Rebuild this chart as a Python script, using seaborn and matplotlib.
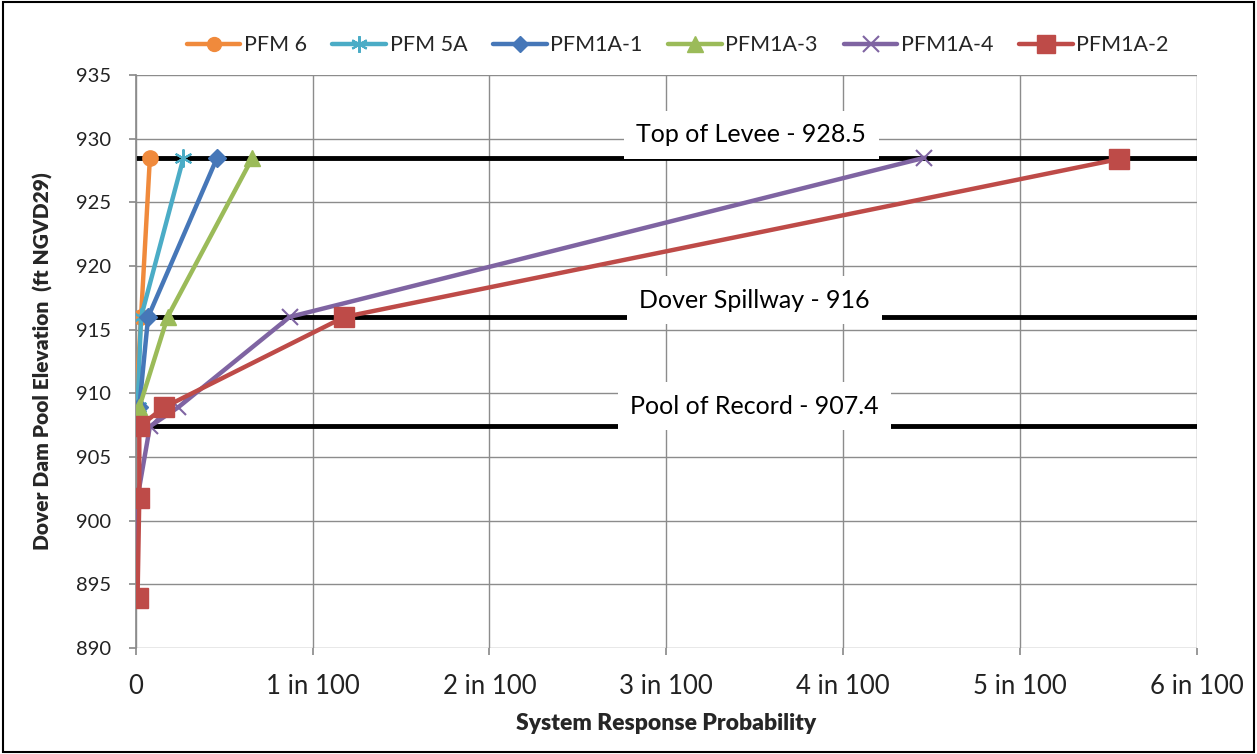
import matplotlib
matplotlib.use("Agg")
import matplotlib.pyplot as plt
import matplotlib.patches as mpatches
import pandas as pd
import seaborn as sns

# series data: probability (fraction) vs pool elevation
series_names = ["PFM 6", "PFM 5A", "PFM1A-1", "PFM1A-3", "PFM1A-4", "PFM1A-2"]

elev_pfm6 = [907.4, 908.9, 916.0, 928.5]
prob_pfm6 = [0.0000, 0.0000, 0.0003, 0.0008]

elev_pfm5a = [907.4, 908.9, 916.0, 928.5]
prob_pfm5a = [0.0000, 0.0001, 0.0003, 0.0027]

elev_pfm1a1 = [907.4, 908.9, 916.0, 928.5]
prob_pfm1a1 = [0.0000, 0.0002, 0.0007, 0.0046]

elev_pfm1a3 = [907.4, 908.9, 916.0, 928.5]
prob_pfm1a3 = [0.0000, 0.0002, 0.0018, 0.0066]

elev_pfm1a4 = [893.9, 901.8, 907.4, 908.9, 916.0, 928.5]
prob_pfm1a4 = [0.0000, 0.0001, 0.0008, 0.0024, 0.0087, 0.0446]

elev_pfm1a2 = [893.9, 901.8, 907.4, 908.9, 916.0, 928.4]
prob_pfm1a2 = [0.0001, 0.0002, 0.0002, 0.0016, 0.0118, 0.0556]

ref_levels = [928.5, 916.0, 907.4]
ref_labels = ["Top of Levee - 928.5", "Dover Spillway - 916", "Pool of Record - 907.4"]

x_ticks = [0, 0.01, 0.02, 0.03, 0.04, 0.05, 0.06]
x_ticklabels = ["0", "1 in 100", "2 in 100", "3 in 100", "4 in 100", "5 in 100", "6 in 100"]
y_ticks = list(range(890, 936, 5))

colors = ["#F08A3C", "#4BACC6", "#4677B8", "#9BBB59", "#7F64A2", "#BE4B48"]
markers = ["o", (6, 2, 0), "D", "^", "x", "s"]
msizes = [11, 13, 9, 12, 12, 14]
medge = [1, 1.5, 1, 1, 1.5, 1]

all_x = [prob_pfm6, prob_pfm5a, prob_pfm1a1, prob_pfm1a3, prob_pfm1a4, prob_pfm1a2]
all_y = [elev_pfm6, elev_pfm5a, elev_pfm1a1, elev_pfm1a3, elev_pfm1a4, elev_pfm1a2]

sns.set_theme(style="white")
plt.rcParams["font.family"] = ["Lato", "DejaVu Sans"]

fig = plt.figure(figsize=(12.57, 7.54), dpi=100)
ax = fig.add_axes([0.108, 0.1406, 0.844, 0.7599])

# reference lines first, under the data
for lvl in ref_levels:
    ax.axhline(lvl, color="black", lw=3.5, zorder=2)

handles = []
for i, name in enumerate(series_names):
    df = pd.DataFrame({"prob": all_x[i], "elev": all_y[i]})
    sns.lineplot(data=df, x="prob", y="elev", ax=ax, sort=False, estimator=None,
                 color=colors[i], lw=3.2, marker=markers[i], markersize=msizes[i],
                 markeredgecolor=colors[i], markeredgewidth=medge[i], zorder=3 + i)
    handles.append(plt.Line2D([], [], color=colors[i], lw=3.2, marker=markers[i],
                              markersize=msizes[i] - 1, markeredgecolor=colors[i],
                              markeredgewidth=medge[i]))

# level labels with white boxes
label_pos = [(0.0348, 930.3), (0.0350, 917.3), (0.0350, 909.0)]
for (lx, ly), txt in zip(label_pos, ref_labels):
    ax.text(lx, ly, txt, ha="center", va="center", fontsize=18, color="black",
            bbox=dict(facecolor="white", edgecolor="none", boxstyle="square,pad=0.5"),
            zorder=10)

ax.set_xlim(0, 0.06)
ax.set_ylim(890, 935)
ax.set_xticks(x_ticks)
ax.set_xticklabels(x_ticklabels)
ax.set_yticks(y_ticks)
ax.tick_params(axis="both", colors="#222222", length=5, direction="out",
               color="#8c8c8c", left=True, bottom=True)
ax.tick_params(axis="x", labelsize=18.5, pad=14)
ax.tick_params(axis="y", labelsize=14.5, pad=13)
ax.grid(True, color="#8c8c8c", lw=1)
ax.set_axisbelow(True)
for side in ["top", "right", "bottom"]:
    ax.spines[side].set_visible(False)
ax.spines["left"].set_color("#8c8c8c")

ax.set_xlabel("System Response Probability", fontsize=16.5, fontweight="heavy", labelpad=10)
ax.set_ylabel("Dover Dam Pool Elevation  (ft NGVD29)", fontsize=15, fontweight="heavy", labelpad=16)

fig.legend(handles, series_names, loc="center", bbox_to_anchor=(0.539, 0.94), ncol=6,
           frameon=False, fontsize=15.5, handlelength=2.5, columnspacing=1.2, handletextpad=0.15)

# figure border
fig.patches.append(mpatches.Rectangle((0.002, 0.003), 0.996, 0.994, transform=fig.transFigure,
                                      fill=False, edgecolor="black", lw=1.5))

fig.savefig("out.png", dpi=100)
